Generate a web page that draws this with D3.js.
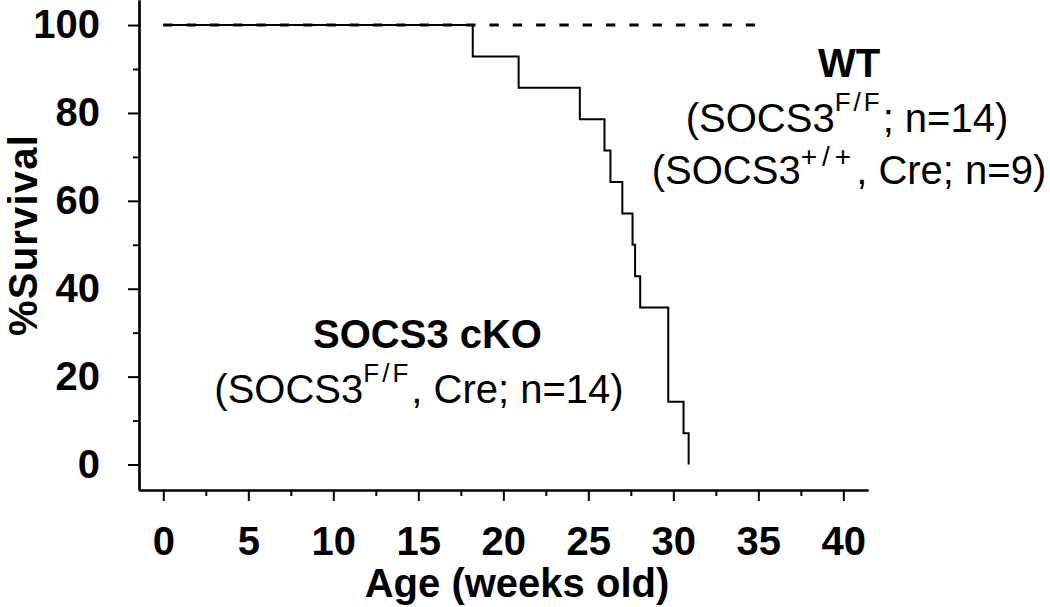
<!DOCTYPE html>
<html>
<head>
<meta charset="utf-8">
<script src="https://cdn.jsdelivr.net/npm/d3@7"></script>
<style>
  html, body { margin: 0; padding: 0; background: #fff; }
  svg { display: block; font-family: "Liberation Sans", Arial, sans-serif; }
</style>
</head>
<body>
<svg id="chart" width="1050" height="607"></svg>
<script>
// ---- data ----
const koWeeks    = [0, 18.2, 20.9, 24.5, 25.95, 26.3, 27.0, 27.6, 27.75, 28.05, 29.7, 30.6, 30.9];
const koSurvival = [100, 92.86, 85.71, 78.57, 71.43, 64.29, 57.14, 50, 42.86, 35.71, 14.29, 7.14, 0];
const wtWeeks    = [0, 35.2];
const wtSurvival = [100, 100];
const xTicks      = [0, 5, 10, 15, 20, 25, 30, 35, 40];
const xMinorTicks = [2.5, 7.5, 12.5, 17.5, 22.5, 27.5, 32.5, 37.5];
const yTicks      = [0, 20, 40, 60, 80, 100];
const yMinorTicks = [10, 30, 50, 70, 90];

const svg = d3.select("#chart");
const x = d3.scaleLinear().domain([-1.43, 41.45]).range([139, 868]);
const y = d3.scaleLinear().domain([-5.8, 105.7]).range([490, 0]);

// axes
const yAxisG = svg.append("g").attr("transform", "translate(139,0)");
yAxisG.call(d3.axisLeft(y).tickValues(yTicks).tickSize(11).tickSizeOuter(0).tickPadding(28));
const yMinorG = svg.append("g").attr("transform", "translate(139,0)");
yMinorG.call(d3.axisLeft(y).tickValues(yMinorTicks).tickSize(6).tickSizeOuter(0).tickFormat(""));

const xAxisG = svg.append("g").attr("transform", "translate(0,490)");
xAxisG.call(d3.axisBottom(x).tickValues(xTicks).tickSize(11).tickSizeOuter(0).tickPadding(25.6));
const xMinorG = svg.append("g").attr("transform", "translate(0,490)");
xMinorG.call(d3.axisBottom(x).tickValues(xMinorTicks).tickSize(6).tickSizeOuter(0).tickFormat(""));

svg.selectAll(".domain").attr("stroke", "#000").attr("stroke-width", 2.2);
svg.selectAll(".tick line").attr("stroke", "#000").attr("stroke-width", 2);
svg.selectAll(".tick text")
  .attr("font-family", "Liberation Sans, Arial, sans-serif")
  .attr("font-size", 40).attr("font-weight", "bold").attr("fill", "#000");

// lines
svg.append("path")
  .datum(wtWeeks.map((w, i) => [w, wtSurvival[i]]))
  .attr("d", d3.line().x(d => x(d[0])).y(d => y(d[1])))
  .attr("fill", "none").attr("stroke", "#000").attr("stroke-width", 3)
  .attr("stroke-dasharray", "9.3,14");

svg.append("path")
  .datum(koWeeks.map((w, i) => [w, koSurvival[i]]))
  .attr("d", d3.line().x(d => x(d[0])).y(d => y(d[1])).curve(d3.curveStepAfter))
  .attr("fill", "none").attr("stroke", "#000").attr("stroke-width", 2);

// axis titles
svg.append("text").attr("x", 517).attr("y", 597).attr("text-anchor", "middle")
  .attr("font-size", 40).attr("font-weight", "bold").text("Age (weeks old)");
svg.append("text").attr("transform", "translate(37,235) rotate(-90)").attr("text-anchor", "middle")
  .attr("font-size", 40).attr("font-weight", "bold").attr("letter-spacing", 1.2).text("%Survival");

// annotations
function supText(xc, yb, parts, bold) {
  const t = svg.append("text").attr("x", xc).attr("y", yb).attr("text-anchor", "middle")
    .attr("font-size", 40).attr("font-weight", bold ? "bold" : "normal");
  parts.forEach(p => {
    const ts = t.append("tspan").text(p.t);
    if (p.sup) {
      ts.attr("font-size", p.size).attr("dy", -p.shift).attr("letter-spacing", p.ls || 0);
    } else if (p.after) {
      ts.attr("dy", p.after);
    }
  });
}
supText(849, 77, [{t: "WT"}], true);
supText(847, 132, [{t: "(SOCS3"}, {t: "F/F", sup: true, size: 26, ls: 3, shift: 21}, {t: "; n=14)", after: 21}]);
supText(849, 184, [{t: "(SOCS3"}, {t: "+/+", sup: true, size: 28, ls: 5, shift: 18}, {t: ", Cre; n=9)", after: 18}]);
supText(427.5, 348, [{t: "SOCS3 cKO"}], true);
supText(419, 403, [{t: "(SOCS3"}, {t: "F/F", sup: true, size: 26, ls: 3, shift: 21}, {t: ", Cre; n=14)", after: 21}]);
</script>
</body>
</html>
